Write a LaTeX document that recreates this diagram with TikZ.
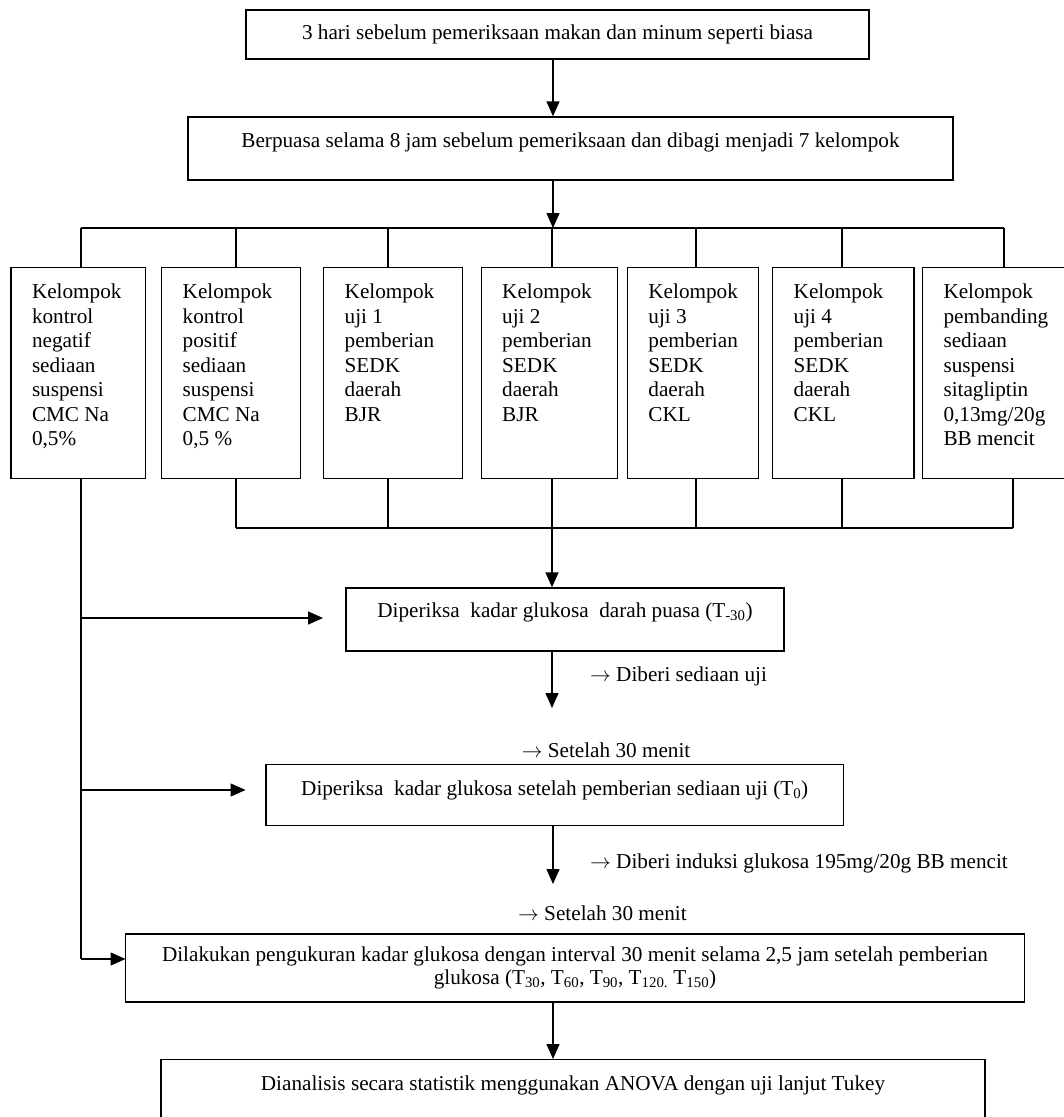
\documentclass[tikz,border=0pt]{standalone}
\usepackage{fontspec}
\setmainfont{Liberation Serif}
\usetikzlibrary{arrows.meta}
\newcommand\upby[2]{\raisebox{#1}[\height][\depth]{#2}}
\newcommand\rarr{$\rightarrow$}
\begin{document}
\begin{tikzpicture}[x=1pt,y=-1pt,
  txt/.style={font=\fontsize{21.2}{24.5}\selectfont},
  box/.style={draw, line width=1.4pt, inner sep=0pt, txt},
  grp/.style={draw, line width=1.4pt, inner sep=0pt, anchor=north west, minimum height=211pt},
  gtxt/.style={txt, inner sep=0pt, anchor=north west, align=left},
  lbl/.style={txt, inner sep=0pt, anchor=west},
  ln/.style={line width=1.4pt},
  arr/.style={line width=1.4pt, -{Triangle[length=15pt,width=13pt]}}]
\useasboundingbox (0,0) rectangle (1064,1117);
\clip (0,0) rectangle (1064,1117);
\fill[white] (0,0) rectangle (1064,1117);

% top boxes
\node[box, minimum width=623pt, minimum height=49pt] (b1) at (557.5,34.5)
  {3 hari sebelum pemeriksaan makan dan minum seperti biasa};
\node[box, minimum width=765pt, minimum height=63pt] (b2) at (570.5,148.5)
  {\upby{6pt}{Berpuasa selama 8 jam sebelum pemeriksaan dan dibagi menjadi 7 kelompok}};

% group boxes
\node[grp, minimum width=134.3pt] (g1) at (10.3,267) {};
\node[grp, minimum width=139pt]   (g2) at (161,267) {};
\node[grp, minimum width=138.5pt] (g3) at (323,267) {};
\node[grp, minimum width=136.5pt] (g4) at (480.5,267) {};
\node[grp, minimum width=131pt]   (g5) at (626.7,267) {};
\node[grp, minimum width=141.3pt] (g6) at (772,267) {};
\node[grp, minimum width=160pt]   (g7) at (921.8,267) {};

\node[gtxt] (t1) at (31.8,283.7) {Kelompok\\kontrol\\negatif\\sediaan\\suspensi\\CMC Na\\0,5\%};
\node[gtxt] (t2) at (182.5,283.7) {Kelompok\\kontrol\\positif\\sediaan\\suspensi\\CMC Na\\0,5 \%};
\node[gtxt] (t3) at (344.5,283.7) {Kelompok\\uji 1\\pemberian\\SEDK\\daerah\\BJR};
\node[gtxt] (t4) at (502,283.7) {Kelompok\\uji 2\\pemberian\\SEDK\\daerah\\BJR};
\node[gtxt] (t5) at (648.2,283.7) {Kelompok\\uji 3\\pemberian\\SEDK\\daerah\\CKL};
\node[gtxt] (t6) at (793.5,283.7) {Kelompok\\uji 4\\pemberian\\SEDK\\daerah\\CKL};
\node[gtxt] (t7) at (943.3,283.7) {Kelompok\\pembanding\\sediaan\\suspensi\\sitagliptin\\0,13mg/20g\\BB mencit};

% process boxes
\node[box, minimum width=438pt, minimum height=63pt] (d1) at (565,619.5)
  {\upby{7pt}{Diperiksa\ \ kadar glukosa\ \ darah puasa (T\textsubscript{-30})}};
\node[box, minimum width=577.5pt, minimum height=61.4pt] (d2) at (554.75,795)
  {\upby{5pt}{Diperiksa\ \ kadar glukosa setelah pemberian sediaan uji (T\textsubscript{0})}};
\node[box, minimum width=899pt, minimum height=68pt, align=center,
  font=\fontsize{21.2}{23.5}\selectfont] (d3) at (575,968)
  {Dilakukan pengukuran kadar glukosa dengan interval 30 menit selama 2,5 jam setelah pemberian\\
   glukosa (T\textsubscript{30}, T\textsubscript{60}, T\textsubscript{90}, T\textsubscript{120.} T\textsubscript{150})};
\node[box, minimum width=824pt, minimum height=120pt, anchor=north] (f) at (573,1059)
  {\upby{34pt}{Dianalisis secara statistik menggunakan ANOVA dengan uji lanjut Tukey}};

% side labels
\node[lbl] (l1) at (590,676) {\rarr\ Diberi sediaan uji};
\node[lbl] (l2) at (521.6,750) {\rarr\ Setelah 30 menit};
\node[lbl] (l3) at (590,863) {\rarr\ Diberi induksi glukosa 195mg/20g BB mencit};
\node[lbl] (l4) at (518,913) {\rarr\ Setelah 30 menit};

% bus coordinates
\coordinate (xc) at (553,228);
\coordinate (x1) at (81,228);
\coordinate (x2) at (236,228);
\coordinate (x3) at (388,228);
\coordinate (x4) at (552,228);
\coordinate (x5) at (696,228);
\coordinate (x6) at (842,228);
\coordinate (x7) at (1004,228);
\coordinate (y2) at (236,528);
\coordinate (y3) at (388,528);
\coordinate (y4) at (552,528);
\coordinate (y5) at (696,528);
\coordinate (y6) at (842,528);
\coordinate (y7) at (1013,528);
\coordinate (e1) at (552,708);
\coordinate (e2) at (553,884);
\coordinate (a1) at (323,618);
\coordinate (a2) at (245.5,790);
\coordinate (a3) at (125.5,959);

% top connectors
\draw[arr] (xc |- b1.south) -- (xc |- b2.north);
\draw[arr] (xc |- b2.south) -- (xc);
\draw[ln] (x1) -- (x7);
\foreach \i in {1,...,7} { \draw[ln] (x\i) -- (x\i |- g\i.north); }

% bottom connectors
\foreach \i in {2,...,7} { \draw[ln] (y\i |- g\i.south) -- (y\i); }
\draw[ln] (y2) -- (y7);
\draw[arr] (y4) -- (y4 |- d1.north);
\draw[arr] (e1 |- d1.south) -- (e1);
\draw[arr] (e2 |- d2.south) -- (e2);
\draw[arr] (e2 |- d3.south) -- (e2 |- f.north);

% left trunk
\draw[ln] (x1 |- g1.south) -- (x1 |- a3);
\draw[arr] (x1 |- a1) -- (a1);
\draw[arr] (x1 |- a2) -- (a2);
\draw[arr] (x1 |- a3) -- (a3);
\end{tikzpicture}
\end{document}
